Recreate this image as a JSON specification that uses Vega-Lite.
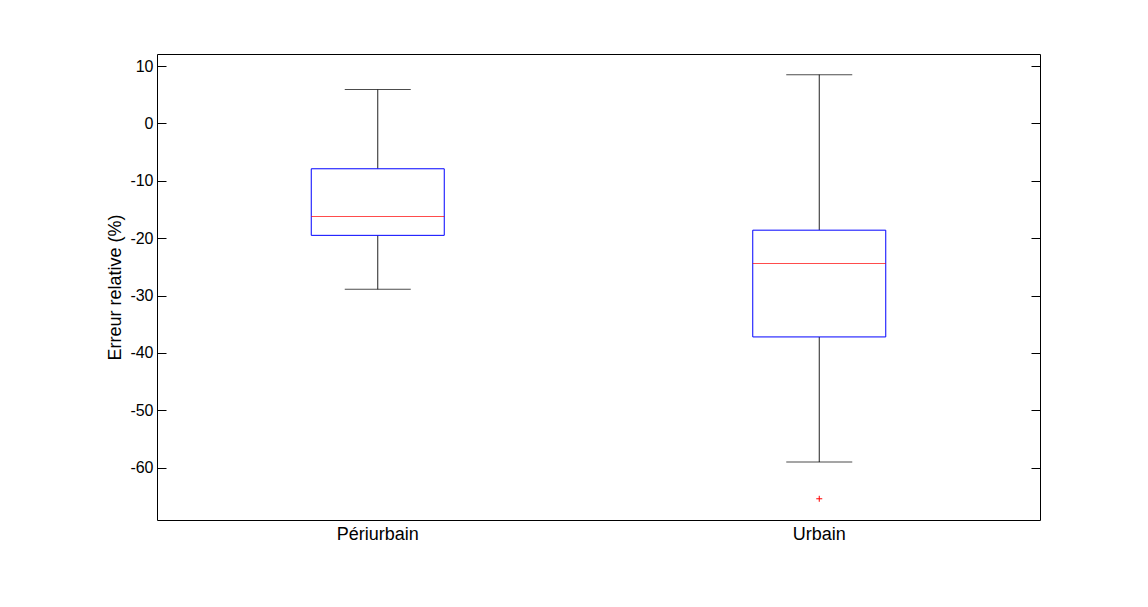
{
  "$schema": "https://vega.github.io/schema/vega-lite/v6.json",
  "width": 883,
  "height": 466,
  "autosize": {"type": "none"},
  "padding": {"left": 157, "top": 54, "right": 108, "bottom": 87},
  "background": "white",
  "config": {
    "view": {"stroke": "black", "strokeWidth": 1},
    "font": "Liberation Sans",
    "axis": {"grid": false}
  },
  "data": {
    "values": [
      {"group": "Périurbain", "lower": -28.9, "q1": -19.5, "median": -16.2, "q3": -7.9, "upper": 5.9},
      {"group": "Urbain", "lower": -59.0, "q1": -37.2, "median": -24.4, "q3": -18.6, "upper": 8.5}
    ]
  },
  "encoding": {
    "x": {
      "field": "group",
      "type": "nominal",
      "sort": null,
      "scale": {"paddingInner": 0, "paddingOuter": 0},
      "axis": {
        "title": null,
        "ticks": false,
        "domain": false,
        "labelAngle": 0,
        "labelFontSize": 18,
        "labelColor": "black",
        "labelPadding": 5,
        "labelBaseline": "top"
      }
    }
  },
  "resolve": {"axis": {"y": "independent"}},
  "layer": [
    {
      "mark": {"type": "rule", "color": "#222222", "strokeWidth": 1},
      "encoding": {
        "y": {
          "field": "lower",
          "type": "quantitative",
          "scale": {"domain": [-69.1, 12.1], "nice": false, "zero": false},
          "axis": {
            "orient": "left",
            "values": [-60, -50, -40, -30, -20, -10, 0, 10],
            "labelExpr": "replace(datum.label, '−', '-')",
            "domain": false,
            "tickSize": -9,
            "tickColor": "black",
            "labelFontSize": 16,
            "labelColor": "black",
            "labelPadding": 13,
            "title": "Erreur relative (%)",
            "titleFontSize": 18,
            "titleFontWeight": "normal",
            "titleColor": "black",
            "titleAngle": 270,
            "titleX": -37,
            "titleY": 233,
            "titleAlign": "center",
            "titleBaseline": "alphabetic"
          }
        },
        "y2": {"field": "q1"}
      }
    },
    {
      "mark": {"type": "rule", "color": "#222222", "strokeWidth": 1},
      "encoding": {
        "y": {
          "field": "q3",
          "type": "quantitative",
          "axis": {
            "orient": "right",
            "values": [-60, -50, -40, -30, -20, -10, 0, 10],
            "domain": false,
            "tickSize": -9,
            "tickColor": "black",
            "labels": false,
            "title": null
          }
        },
        "y2": {"field": "upper"}
      }
    },
    {
      "mark": {"type": "tick", "orient": "horizontal", "color": "black", "size": 66, "thickness": 1},
      "encoding": {"y": {"field": "lower", "type": "quantitative", "axis": null}}
    },
    {
      "mark": {"type": "tick", "orient": "horizontal", "color": "black", "size": 66, "thickness": 1},
      "encoding": {"y": {"field": "upper", "type": "quantitative", "axis": null}}
    },
    {
      "mark": {"type": "bar", "size": 133, "fill": "white", "stroke": "#0000ff", "strokeWidth": 1},
      "encoding": {
        "y": {"field": "q1", "type": "quantitative", "axis": null},
        "y2": {"field": "q3"}
      }
    },
    {
      "mark": {"type": "tick", "orient": "horizontal", "color": "#ff0000", "size": 133, "thickness": 1},
      "encoding": {"y": {"field": "median", "type": "quantitative", "axis": null}}
    },
    {
      "data": {"values": [{"group": "Urbain", "value": -65.4}]},
      "mark": {"type": "point", "shape": "M-1,0L1,0M0,-1L0,1", "filled": false, "stroke": "#ff0000", "strokeWidth": 1, "size": 36, "opacity": 1},
      "encoding": {"y": {"field": "value", "type": "quantitative", "axis": null}}
    }
  ]
}
